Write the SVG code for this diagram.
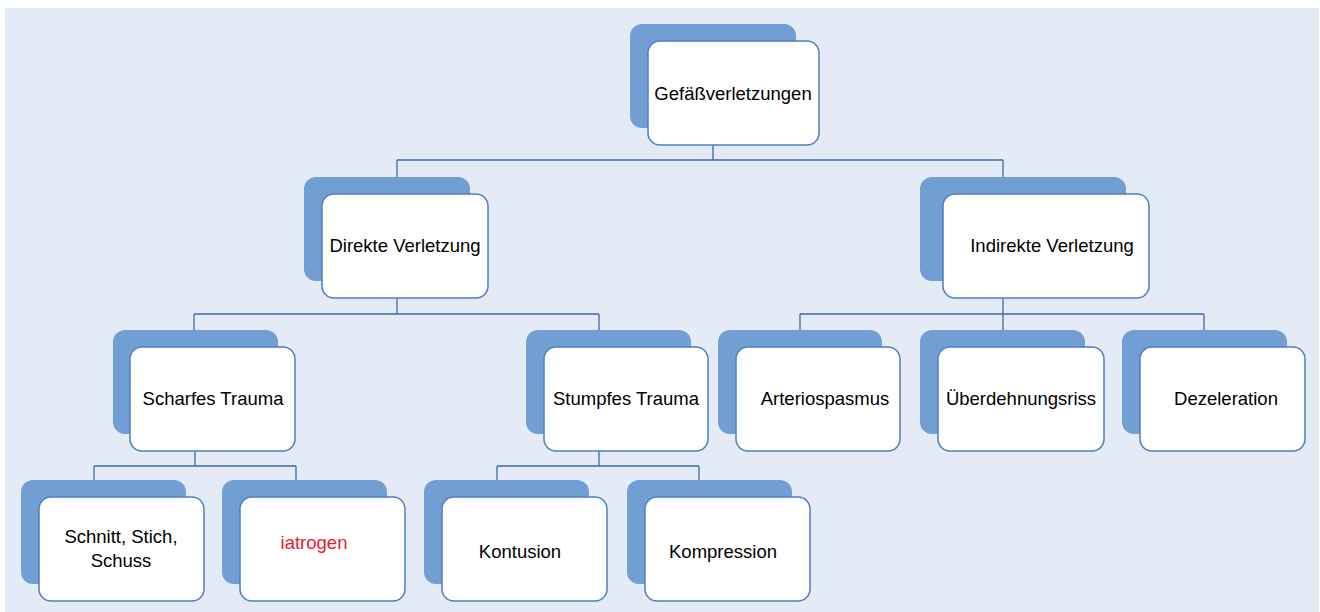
<svg xmlns="http://www.w3.org/2000/svg" width="1320" height="612" viewBox="0 0 1320 612">
<style>
.bk{fill:#729FD3;}
.fr{fill:#FFFFFF;stroke:#4F7FBF;stroke-width:1.5;}
.t{font-family:"Liberation Sans",Arial,sans-serif;font-size:18.5px;fill:#000;text-anchor:middle;}
.red{fill:#E8202A;}
.c{fill:none;stroke:#3E6AA6;stroke-width:1.3;}
</style>
<rect x="5" y="8" width="1314" height="604" fill="#E4EAF6"/>
<g id="connectors">
<path class="c" d="M713 145V160M397 160H1003M397 160V177M1003 160V177"/>
<path class="c" d="M397 298V314M194 314H599M194 314V330M599 314V330"/>
<path class="c" d="M1003 298V330M800 314H1204M800 314V330M1204 314V330"/>
<path class="c" d="M195 451V466M94 466H296M94 466V480M296 466V480"/>
<path class="c" d="M599 451V466M497 466H699M497 466V480M699 466V480"/>
</g>
<g id="n-root"><rect class="bk" x="630" y="24" width="166" height="104" rx="12"/><rect class="fr" x="648" y="41" width="171" height="104" rx="12"/><text class="t" x="733" y="100">Gefäßverletzungen</text></g>
<g id="n-direkt"><rect class="bk" x="304" y="177" width="166" height="104" rx="12"/><rect class="fr" x="322" y="194" width="166" height="104" rx="12"/><text class="t" x="405" y="252">Direkte Verletzung</text></g>
<g id="n-indirekt"><rect class="bk" x="920" y="177" width="206" height="104" rx="12"/><rect class="fr" x="943" y="194" width="206" height="104" rx="12"/><text class="t" x="1052" y="252">Indirekte Verletzung</text></g>
<g id="n-scharf"><rect class="bk" x="113" y="330" width="165" height="104" rx="12"/><rect class="fr" x="130" y="347" width="165" height="104" rx="12"/><text class="t" x="213" y="405">Scharfes Trauma</text></g>
<g id="n-stumpf"><rect class="bk" x="526" y="330" width="165" height="104" rx="12"/><rect class="fr" x="544" y="347" width="164" height="104" rx="12"/><text class="t" x="626" y="405">Stumpfes Trauma</text></g>
<g id="n-arterio"><rect class="bk" x="718" y="330" width="164" height="104" rx="12"/><rect class="fr" x="736" y="347" width="164" height="104" rx="12"/><text class="t" x="825" y="405">Arteriospasmus</text></g>
<g id="n-ueber"><rect class="bk" x="920" y="330" width="165" height="104" rx="12"/><rect class="fr" x="938" y="347" width="166" height="104" rx="12"/><text class="t" x="1021" y="405">Überdehnungsriss</text></g>
<g id="n-dezel"><rect class="bk" x="1122" y="330" width="165" height="104" rx="12"/><rect class="fr" x="1140" y="347" width="165" height="104" rx="12"/><text class="t" x="1226" y="405">Dezeleration</text></g>
<g id="n-schnitt"><rect class="bk" x="21" y="480" width="165" height="104" rx="12"/><rect class="fr" x="39" y="497" width="165" height="104" rx="12"/><text class="t" x="121" y="543">Schnitt, Stich,</text><text class="t" x="121" y="567">Schuss</text></g>
<g id="n-iatrogen"><rect class="bk" x="222" y="480" width="165" height="104" rx="12"/><rect class="fr" x="240" y="497" width="165" height="104" rx="12"/><text class="t red" x="314" y="549">iatrogen</text></g>
<g id="n-kontusion"><rect class="bk" x="424" y="480" width="165" height="104" rx="12"/><rect class="fr" x="442" y="497" width="165" height="104" rx="12"/><text class="t" x="520" y="558">Kontusion</text></g>
<g id="n-kompression"><rect class="bk" x="627" y="480" width="165" height="104" rx="12"/><rect class="fr" x="645" y="497" width="165" height="104" rx="12"/><text class="t" x="723" y="558">Kompression</text></g>
</svg>
